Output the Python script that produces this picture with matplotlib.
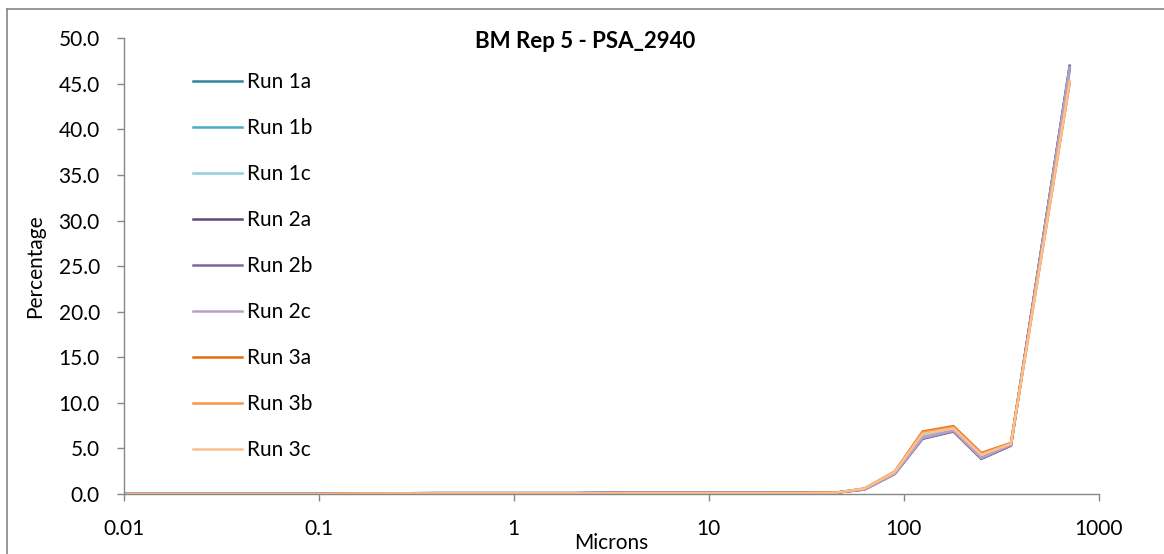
import matplotlib
matplotlib.use("Agg")
import matplotlib.pyplot as plt
from matplotlib.lines import Line2D

plt.rcParams["font.family"] = ["Lato", "DejaVu Sans"]

AXIS_GREY = "#868686"

# particle size bins (microns)
sizes = [0.01, 0.02, 0.04, 0.06, 0.1, 0.2, 0.4, 0.6, 1, 2, 4, 6, 10,
         20, 30, 45, 63, 90, 125, 180, 250, 355, 710]

run_1a = [0, 0, 0, 0, 0, 0.05, 0.08, 0.08, 0.08, 0.08, 0.12, 0.12, 0.12,
          0.12, 0.12, 0.15, 0.55, 2.3, 6.4, 7.1, 4.2, 5.5, 46.6]
run_1b = [0, 0, 0, 0, 0, 0.05, 0.08, 0.08, 0.08, 0.08, 0.12, 0.12, 0.12,
          0.12, 0.12, 0.15, 0.55, 2.3, 6.3, 7.0, 4.1, 5.45, 46.7]
run_1c = [0, 0, 0, 0, 0, 0.05, 0.08, 0.08, 0.08, 0.08, 0.12, 0.12, 0.12,
          0.12, 0.12, 0.15, 0.55, 2.3, 6.35, 7.05, 4.15, 5.5, 46.6]
run_2a = [0, 0, 0, 0, 0, 0.06, 0.1, 0.1, 0.1, 0.1, 0.15, 0.15, 0.15,
          0.15, 0.14, 0.15, 0.5, 2.2, 6.1, 6.9, 3.9, 5.35, 46.9]
run_2b = [0, 0, 0, 0, 0, 0.06, 0.1, 0.1, 0.1, 0.1, 0.15, 0.15, 0.15,
          0.15, 0.14, 0.15, 0.5, 2.2, 6.05, 6.85, 3.85, 5.3, 47.0]
run_2c = [0, 0, 0, 0, 0, 0.06, 0.1, 0.1, 0.1, 0.1, 0.15, 0.15, 0.15,
          0.15, 0.14, 0.15, 0.5, 2.2, 6.15, 6.95, 3.95, 5.4, 46.8]
run_3a = [0, 0, 0, 0, 0, 0.04, 0.07, 0.07, 0.07, 0.07, 0.1, 0.1, 0.1,
          0.1, 0.1, 0.14, 0.6, 2.45, 6.85, 7.45, 4.5, 5.6, 45.2]
run_3b = [0, 0, 0, 0, 0, 0.04, 0.07, 0.07, 0.07, 0.07, 0.1, 0.1, 0.1,
          0.1, 0.1, 0.14, 0.6, 2.45, 6.75, 7.35, 4.4, 5.55, 45.1]
run_3c = [0, 0, 0, 0, 0, 0.04, 0.07, 0.07, 0.07, 0.07, 0.1, 0.1, 0.1,
          0.1, 0.1, 0.14, 0.6, 2.4, 6.6, 7.2, 4.3, 5.5, 45.3]

run_names = ["Run 1a", "Run 1b", "Run 1c", "Run 2a", "Run 2b", "Run 2c",
             "Run 3a", "Run 3b", "Run 3c"]
run_values = [run_1a, run_1b, run_1c, run_2a, run_2b, run_2c,
              run_3a, run_3b, run_3c]
run_colors = ["#31859C", "#4BACC6", "#93CDDD", "#604A7B", "#8064A2",
              "#B3A2C7", "#E46C0A", "#F79646", "#FAC090"]

x_ticks = [0.01, 0.1, 1, 10, 100, 1000]
x_tick_labels = ["0.01", "0.1", "1", "10", "100", "1000"]
y_ticks = [0, 5, 10, 15, 20, 25, 30, 35, 40, 45, 50]

W, H = 1164, 554
fig = plt.figure(figsize=(W / 100, H / 100), dpi=100)
ax = fig.add_axes([123.5 / W, 1 - 494 / H, (1098.7 - 123.5) / W, (494 - 38.3) / H])

for name, vals, col in zip(run_names, run_values, run_colors):
    ax.plot(sizes, vals, color=col, linewidth=1.8, label=name)

ax.set_xscale("log")
ax.set_xlim(0.01, 1000)
ax.set_ylim(0, 50)
ax.set_xticks(x_ticks)
ax.set_xticklabels(x_tick_labels)
ax.xaxis.set_minor_locator(matplotlib.ticker.NullLocator())
ax.set_yticks(y_ticks)
ax.set_yticklabels([f"{v:.1f}" for v in y_ticks])

for side in ("top", "right"):
    ax.spines[side].set_visible(False)
for side in ("left", "bottom"):
    ax.spines[side].set_color(AXIS_GREY)
    ax.spines[side].set_linewidth(1.0)
ax.tick_params(axis="both", colors=AXIS_GREY, labelcolor="black",
               labelsize=15, length=5, width=1.0, direction="out")
ax.tick_params(axis="y", pad=12)
ax.tick_params(axis="x", pad=13)

leg = ax.legend(loc="upper left", bbox_to_anchor=(193 / W, 1 - 72 / H),
                bbox_transform=fig.transFigure, frameon=False, fontsize=15,
                handlelength=2.35, handletextpad=0.25, labelspacing=1.25,
                borderpad=0, borderaxespad=0)

fig.text(585.5 / W, 1 - 48 / H, "BM Rep 5 - PSA_2940", ha="center",
         va="baseline", fontsize=16, fontweight="bold")
fig.text(611 / W, 1 - 549 / H, "Microns", ha="center", va="baseline", fontsize=15)
fig.text(35 / W, 1 - 266 / H, "Percentage", ha="center", va="center",
         rotation=90, fontsize=15)

# outer chart border (only left/top edges fall inside the image)
fig.add_artist(Line2D([7 / W, 7 / W], [0, 1 - 9 / H], color=AXIS_GREY,
                      linewidth=1.2, transform=fig.transFigure))
fig.add_artist(Line2D([7 / W, 1], [1 - 9 / H, 1 - 9 / H], color=AXIS_GREY,
                      linewidth=1.2, transform=fig.transFigure))

fig.savefig("out.png", dpi=100, facecolor="white")
